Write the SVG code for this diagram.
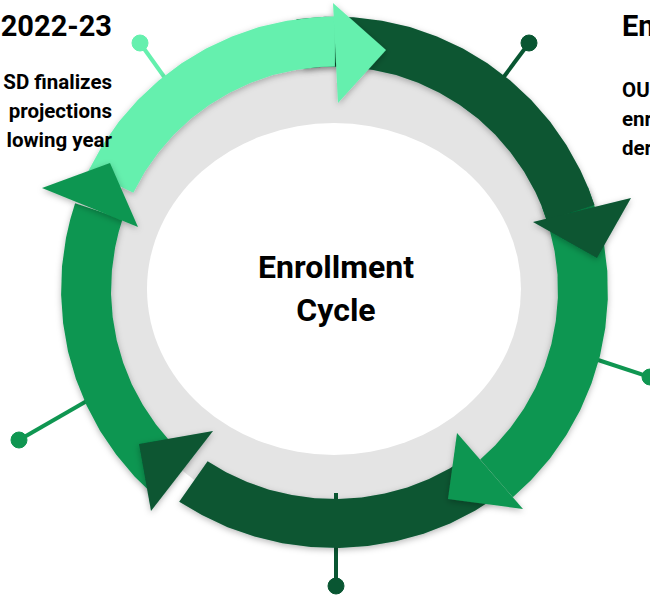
<svg xmlns="http://www.w3.org/2000/svg" width="650" height="595" viewBox="0 0 650 595">
  <defs>
    <filter id="sh" x="-20%" y="-20%" width="140%" height="140%">
      <feDropShadow dx="0" dy="2" stdDeviation="3" flood-color="#000" flood-opacity="0.28"/>
    </filter>
    <style>
      .t { font-family: Roboto, "Liberation Sans", sans-serif; font-weight: 700; fill: #000; }
      .h { font-size: 29px; }
      .b { font-size: 20.5px; }
      .c { font-size: 32px; }
      .lg { stroke: #65F0AE; fill: #65F0AE; }
      .dk { stroke: #095632; fill: #095632; }
      .md { stroke: #0F9651; fill: #0F9651; }
      .shape { stroke: none; }
      .tick { stroke-width: 4px; fill: none; }
    </style>
  </defs>
  <rect width="650" height="595" fill="#fff"/>

  <g id="ring">
    <circle cx="334.5" cy="290" r="236" fill="#E4E4E4"/>
    <ellipse cx="334" cy="289" rx="187" ry="166" fill="#fff"/>
  </g>

  <g id="connectors">
    <line class="tick lg" x1="140" y1="43" x2="175" y2="92"/>
    <circle class="lg" cx="140" cy="43" r="8"/>
    <line class="tick dk" x1="529" y1="43" x2="497" y2="86"/>
    <circle class="dk" cx="529" cy="43" r="8"/>
    <line class="tick md" x1="592" y1="358" x2="650" y2="377"/>
    <circle class="md" cx="650" cy="377" r="8"/>
    <line class="tick md" x1="19" y1="440" x2="92" y2="398"/>
    <circle class="md" cx="19" cy="440" r="8"/>
    <line class="tick dk" x1="336" y1="493" x2="336" y2="586"/>
    <circle class="dk" cx="336" cy="586" r="8"/>
  </g>

  <g id="arrow-left-band" filter="url(#sh)">
    <polygon class="md shape" points="155.1,496.4 134.5,476.5 116.1,454.6 100.1,430.9 86.6,405.6 75.9,379.1 68,351.5 63.1,323.3 61.1,294.8 62,266.2 66,237.8 70.3,219.2 75.1,203.2 122.6,219.1 118.6,232.2 115.1,247.4 111.9,270.5 111,293.9 112.7,317.2 116.7,340.3 123.2,362.8 131.9,384.5 142.9,405.1 156,424.5 171,442.4 187.9,458.7"/>
  </g>
  <g id="arrow-bottom" filter="url(#sh)">
    <polygon class="dk shape" points="499.1,495.2 475.4,510.6 450.1,523.5 423.6,533.7 396,541.3 367.8,546 339.3,547.9 310.7,547 282.3,543.2 254.5,536.6 227.6,527.2 201.9,515.1 179.2,501.7 207.6,461.3 226.1,472.3 247.2,482.1 269.1,489.7 291.9,495.1 315,498.2 338.4,499 361.7,497.4 384.8,493.5 407.3,487.4 429,479 449.6,468.6 469,456.1"/>
    <polygon class="dk shape" points="213,431 151,511 139,444"/>
  </g>
  <g id="arrow-right" filter="url(#sh)">
    <polygon class="md shape" points="588.1,187.5 597.4,214.6 603.8,242.5 607.3,270.9 607.8,299.5 605.3,328.1 599.9,356.2 591.5,383.5 580.3,409.9 566.4,434.9 550,458.4 531.2,480 512.8,497.3 480.2,459.4 495.3,445.3 510.6,427.6 524,408.4 535.4,388 544.5,366.4 551.4,344.1 555.8,321.1 557.9,297.8 557.5,274.4 554.6,251.2 549.4,228.4 541.7,206.3"/>
    <polygon class="md shape" points="457,433 523,509 448,499"/>
  </g>
  <g id="arrow-topright" filter="url(#sh)">
    <polygon class="dk shape" points="296.4,19.2 325,16.7 353.6,17.2 382,20.7 409.9,27.1 437,36.4 462.9,48.5 487.4,63.3 510.3,80.5 531.2,100 550,121.6 566.4,145.1 580.3,170.1 588.1,187.5 594.5,205 546.9,220.6 541.7,206.3 535.4,192 524,171.6 510.6,152.4 495.3,134.7 478.2,118.8 459.5,104.7 439.4,92.7 418.2,82.8 396.1,75.1 373.3,69.9 350.1,67 326.7,66.6 303.4,68.7"/>
    <polygon class="dk shape" points="533,222 631,198 597,258"/>
  </g>
  <g id="arrow-top" filter="url(#sh)">
    <polygon class="lg shape" points="88.3,171 102.6,145.1 119,121.6 137.8,100 158.7,80.5 181.6,63.3 206.1,48.5 232,36.4 259.1,27.1 287,20.7 315.4,17.2 335,16.5 334.9,66.5 318.9,67 295.7,69.9 272.9,75.1 250.8,82.8 229.6,92.7 209.5,104.7 190.8,118.8 173.7,134.7 158.4,152.4 145,171.6 133.3,192.7"/>
    <polygon class="lg shape" points="333,3 386,50 338,103"/>
  </g>
  <g id="arrow-left-head" filter="url(#sh)">
    <polygon class="md shape" points="42,188 138,227 110,163"/>
  </g>

  <g id="center">
    <text class="t c" x="336" y="278" text-anchor="middle">Enrollment</text>
    <text class="t c" x="336" y="321" text-anchor="middle">Cycle</text>
  </g>
  <g id="left-text">
    <text class="t h" x="112" y="36" text-anchor="end">2022-23</text>
    <text class="t b" x="112" y="89" text-anchor="end">SD finalizes</text>
    <text class="t b" x="112" y="118" text-anchor="end">projections</text>
    <text class="t b" x="112" y="147" text-anchor="end">lowing year</text>
  </g>
  <g id="right-text">
    <text class="t h" x="622" y="36">En</text>
    <text class="t b" x="622" y="97">OU</text>
    <text class="t b" x="622" y="126">enr</text>
    <text class="t b" x="622" y="155">der</text>
  </g>
</svg>
